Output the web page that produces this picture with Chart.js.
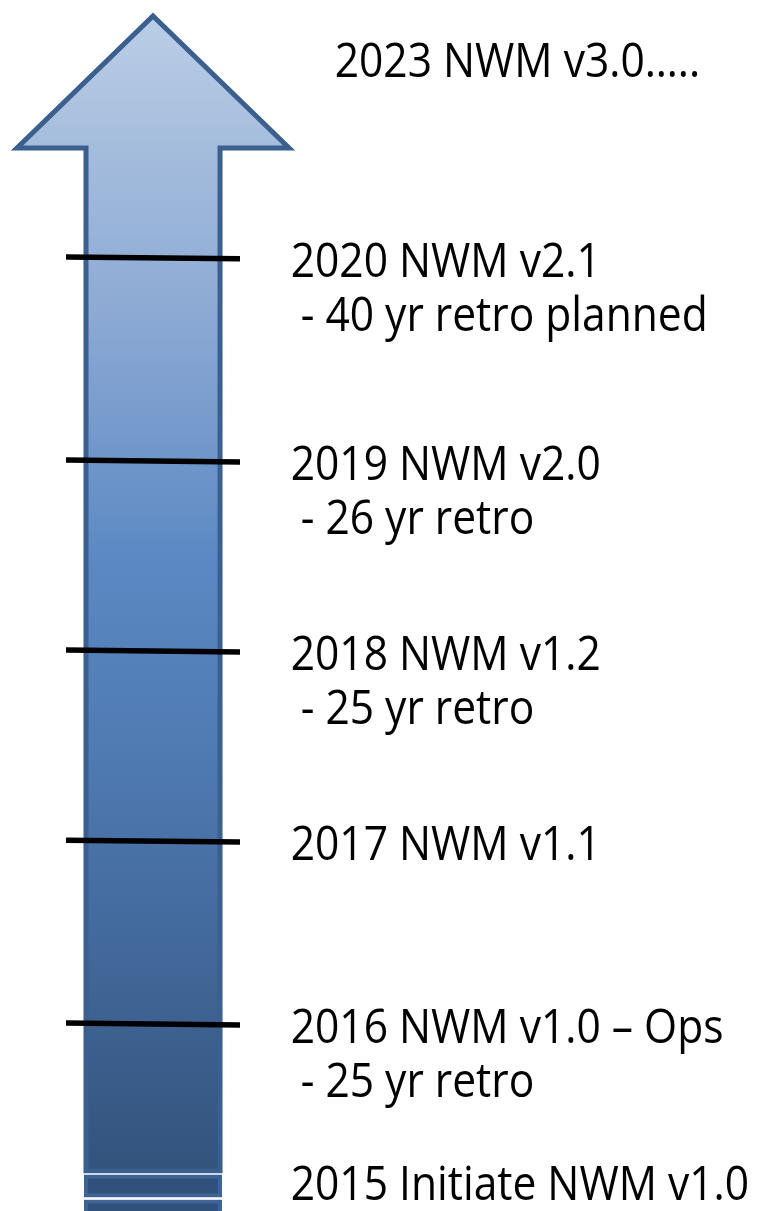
<!DOCTYPE html>
<html>
<head>
<meta charset="utf-8">
<script src="https://cdn.jsdelivr.net/npm/chart.js@4"></script>
<style>
  html, body { margin: 0; padding: 0; background: #ffffff; }
  #timeline { display: block; }
</style>
</head>
<body>
<canvas id="timeline" width="759" height="1211"></canvas>
<script>
// milestones, oldest first
const milestoneYears = ["2015", "2016", "2017", "2018", "2019", "2020", "2023"];
const milestoneTitles = [
  "2015 Initiate NWM v1.0",
  "2016 NWM v1.0 \u2013 Ops",
  "2017 NWM v1.1",
  "2018 NWM v1.2",
  "2019 NWM v2.0",
  "2020 NWM v2.1",
  "2023 NWM v3.0\u2026.."
];
const milestoneNotes = ["", "- 25 yr retro", "", "- 25 yr retro", "- 26 yr retro", "- 40 yr retro planned", ""];
// height along the arrow, 0 = bottom of picture, 100 = top
const milestoneLevels = [2.48, 15.44, 30.55, 46.24, 61.93, 78.7, 95.21];
// years that get a tick across the arrow
const tickedYears = ["2016", "2017", "2018", "2019", "2020"];

// arrow shape, in axis units
const ARROW_X = 20.16;
const SHAFT_HALF = 8.83;
const HEAD_HALF = 17.92;
const TIP_Y = 98.68;
const HEAD_BASE_Y = 87.78;
const SHAFT_BOTTOM_Y = 3.3;
const BANDS = [[2.85, 1.28], [0.78, -2]];

const LABEL_X = 38.3;
const TOP_LABEL_X = 44.1;

const tickPoints = milestoneYears
  .map((y, i) => ({ x: ARROW_X, y: milestoneLevels[i], year: y }))
  .filter(p => tickedYears.includes(p.year));

function arrowGradient(ctx, area) {
  const g = ctx.createLinearGradient(0, area.top, 0, area.bottom);
  g.addColorStop(0, "#bed0e7");
  g.addColorStop(0.12, "#a5bddd");
  g.addColorStop(0.25, "#8eabd5");
  g.addColorStop(0.46, "#5c89c3");
  g.addColorStop(0.62, "#4f7ab2");
  g.addColorStop(0.78, "#43699b");
  g.addColorStop(0.97, "#32537c");
  g.addColorStop(1, "#30507a");
  return g;
}

const arrowPlugin = {
  id: "arrow",
  beforeDatasetsDraw(chart) {
    const { ctx, chartArea, scales } = chart;
    const x = v => scales.x.getPixelForValue(v);
    const y = v => scales.y.getPixelForValue(v);
    const fill = arrowGradient(ctx, chartArea);
    ctx.save();
    ctx.lineJoin = "miter";

    ctx.beginPath();
    ctx.moveTo(x(ARROW_X), y(TIP_Y));
    ctx.lineTo(x(ARROW_X + HEAD_HALF), y(HEAD_BASE_Y));
    ctx.lineTo(x(ARROW_X + SHAFT_HALF), y(HEAD_BASE_Y));
    ctx.lineTo(x(ARROW_X + SHAFT_HALF), y(SHAFT_BOTTOM_Y));
    ctx.lineTo(x(ARROW_X - SHAFT_HALF), y(SHAFT_BOTTOM_Y));
    ctx.lineTo(x(ARROW_X - SHAFT_HALF), y(HEAD_BASE_Y));
    ctx.lineTo(x(ARROW_X - HEAD_HALF), y(HEAD_BASE_Y));
    ctx.closePath();
    ctx.fillStyle = fill;
    ctx.fill();
    ctx.lineWidth = 5;
    ctx.strokeStyle = "#3b5f8f";
    ctx.stroke();

    // small stacked blocks under the shaft
    BANDS.forEach(b => {
      const l = x(ARROW_X - SHAFT_HALF), r = x(ARROW_X + SHAFT_HALF);
      const t = y(b[0]), btm = y(b[1]);
      ctx.fillStyle = "#30517b";
      ctx.fillRect(l, t, r - l, btm - t);
      ctx.lineWidth = 4;
      ctx.strokeStyle = "#3e6497";
      ctx.strokeRect(l, t, r - l, btm - t);
      ctx.lineWidth = 1;
      ctx.strokeStyle = "#ffffff";
      ctx.strokeRect(l - 2.5, t - 2.5, r - l + 5, btm - t + 5);
    });
    ctx.restore();
  },
  afterDatasetsDraw(chart) {
    const { ctx, scales } = chart;
    const sx = 0.905;
    ctx.save();
    ctx.fillStyle = "#000000";
    ctx.font = "47px 'Open Sans'";
    ctx.textBaseline = "alphabetic";
    milestoneTitles.forEach((title, i) => {
      const last = i === milestoneTitles.length - 1;
      const px = scales.x.getPixelForValue(last ? TOP_LABEL_X : LABEL_X);
      const py = scales.y.getPixelForValue(milestoneLevels[i]) + 19;
      ctx.save();
      ctx.translate(px, py);
      ctx.scale(sx, 1);
      ctx.fillText(title, 0, 0);
      if (milestoneNotes[i]) {
        ctx.fillText(milestoneNotes[i], 11, 54);
      }
      ctx.restore();
    });
    ctx.restore();
  }
};

const config = {
  type: "scatter",
  data: {
    datasets: [
      {
        data: tickPoints,
        pointStyle: "line",
        pointRadius: 87,
        pointHoverRadius: 87,
        pointRotation: 0.6,
        pointBorderWidth: 5.5,
        pointBorderColor: "#000000",
        pointBackgroundColor: "#000000",
        clip: false
      }
    ]
  },
  options: {
    responsive: false,
    animation: false,
    events: [],
    layout: { padding: 0, autoPadding: false },
    plugins: { legend: { display: false }, tooltip: { enabled: false } },
    scales: {
      x: { type: "linear", min: 0, max: 100, display: false },
      y: { type: "linear", min: 0, max: 100, display: false }
    }
  },
  plugins: [arrowPlugin]
};

var myChart = new Chart(document.getElementById("timeline"), config);
</script>
</body>
</html>
